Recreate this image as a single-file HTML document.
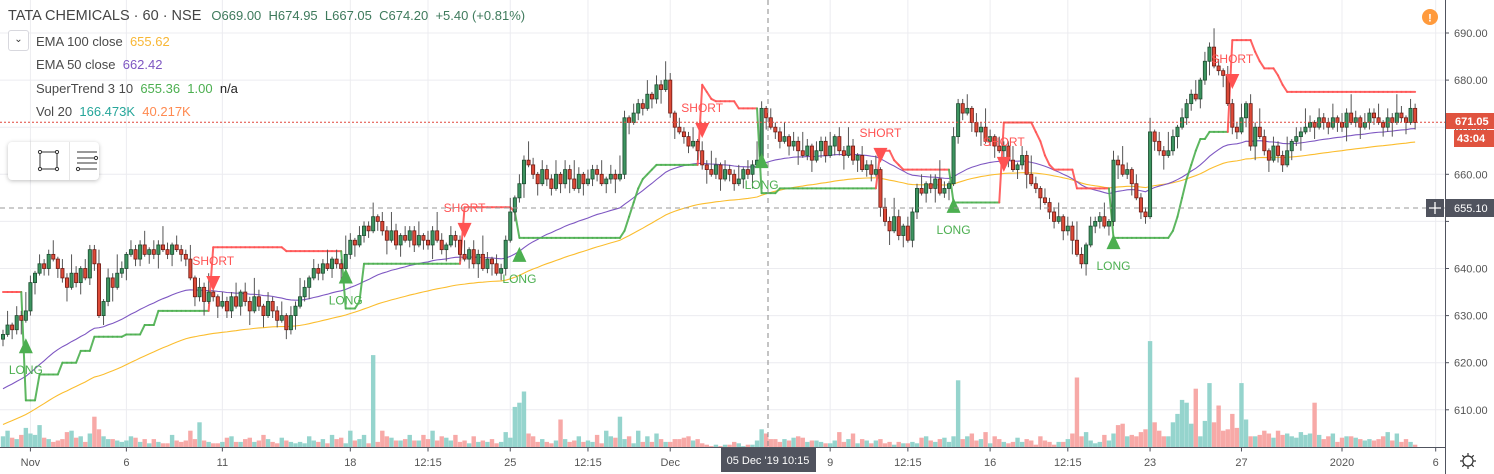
<!DOCTYPE html>
<html><head><meta charset="utf-8">
<style>
html,body{margin:0;padding:0;background:#fff;overflow:hidden;width:1494px;height:474px}
body{position:relative;font-family:"Liberation Sans",sans-serif}
svg{position:absolute;left:0;top:0;display:block}
.leg{position:absolute;font-size:13px;color:#4a4a4a;white-space:nowrap;line-height:16px}
</style></head><body>
<svg id="chart" width="1494" height="474"></svg>

<div class="leg" style="left:8px;top:8px;font-size:14.5px;color:#444">TATA CHEMICALS · 60 · NSE <span style="font-size:13px;color:#3e7a5c;margin-left:6px">O669.00&nbsp; H674.95&nbsp; L667.05&nbsp; C674.20&nbsp; +5.40 (+0.81%)</span></div>
<div style="position:absolute;left:8px;top:30px;width:19px;height:19px;border:1px solid #d8d8de;border-radius:3px;background:#fff;font-size:10px;text-align:center;line-height:18px;color:#333">&#8964;</div>
<div class="leg" style="left:36px;top:34px">EMA 100 close&nbsp; <span style="color:#f8b735">655.62</span></div>
<div class="leg" style="left:36px;top:57px">EMA 50 close&nbsp; <span style="color:#7e57c2">662.42</span></div>
<div class="leg" style="left:36px;top:81px">SuperTrend 3 10&nbsp; <span style="color:#4caf50">655.36&nbsp; 1.00</span>&nbsp; <span style="color:#222">n/a</span></div>
<div class="leg" style="left:36px;top:104px">Vol 20&nbsp; <span style="color:#26a69a">166.473K</span>&nbsp; <span style="color:#ff8a50">40.217K</span></div>

<div style="position:absolute;left:8px;top:142px;width:91px;height:38px;background:#fff;border-radius:4px;box-shadow:0 1px 4px rgba(0,0,0,.25)">
 <div style="position:absolute;left:22px;top:0;width:1px;height:38px;background:#e6e6e6"></div>
 <div style="position:absolute;left:61px;top:0;width:1px;height:38px;background:#e6e6e6"></div>
 <div style="position:absolute;left:24px;top:8px;width:36px;height:22px"><svg width="36" height="22" style="position:static"><rect x="8" y="2" width="17" height="17" fill="none" stroke="#333"/><g fill="#fff" stroke="#333"><circle cx="8" cy="2" r="1.6"/><circle cx="25" cy="2" r="1.6"/><circle cx="8" cy="19" r="1.6"/><circle cx="25" cy="19" r="1.6"/></g></svg></div>
 <div style="position:absolute;left:63px;top:8px;width:28px;height:22px"><svg width="28" height="22" style="position:static"><g stroke="#333"><line x1="6" y1="2" x2="26" y2="2"/><line x1="6" y1="8" x2="26" y2="8"/><line x1="6" y1="13" x2="26" y2="13"/><line x1="6" y1="19" x2="26" y2="19"/></g><circle cx="7" cy="19" r="1.6" fill="#fff" stroke="#333"/><circle cx="25" cy="8" r="1.6" fill="#fff" stroke="#333"/></svg></div>
</div>

<script>
// ---------- data ----------
const closes = [626,628,627,630,629,631,637,
639,641,640,643,642,640,
638,636,639,637,640,638,644,
641,630,633,638,636,639,640,
643,644,642,645,643,644,643,645,644,643,645,644,643,642,
638,634,636,633,635,
634,632,633,631,634,632,635,633,631,634,632,630,633,631,629,630,
627,630,632,634,636,
638,640,639,641,640,642,641,640,
643,646,645,647,649,648,651,
650,648,646,648,645,647,646,648,645,647,646,645,648,646,644,645,647,646,
643,642,644,641,643,640,642,641,639,640,
646,652,655,658,663,
662,660,658,661,659,657,660,658,661,659,657,660,658,659,661,660,658,659,660,659,
660,
672,671,673,675,674,677,
676,679,678,680,
673,670,669,668,666,667,
665,662,661,660,662,659,661,660,658,659,661,660,662,663,
674,672,670,
669,667,668,666,667,
665,664,666,663,665,667,664,666,668,665,664,666,663,664,
661,662,660,661,
653,650,648,651,647,649,646,
652,657,656,658,657,659,656,657,658,
668,675,673,674,
671,669,670,667,668,666,
665,666,663,661,662,664,660,658,657,655,654,
652,650,651,648,649,646,643,641,645,
649,650,651,649,650,
663,662,660,661,
658,655,652,651,
669,667,665,664,665,
668,670,672,675,677,676,
680,684,687,
683,682,681,
675,670,669,
672,675,666,670,668,665,
663,666,664,662,665,
667,668,669,670,671,670,
672,671,670,672,671,670,673,671,672,670,671,673,672,671,670,672,671,673,672,671,674,671];
const volumes = [40,60,35,30,45,70,50,45,80,35, 30,20,25,30,55,60,35,40,20,50,
110,65,40,30,30,25,20,25,40,35, 20,30,15,30,20,15,15,45,25,20,
25,60,30,90,25,20,15,15,20,35, 40,20,20,30,35,20,25,45,30,20,
15,35,25,20,15,20,15,40,25,20, 30,15,45,30,35,15,60,25,30,45,
15,330,20,60,40,35,25,25,30,45, 25,25,45,30,60,25,40,35,25,45,
20,25,15,40,20,25,20,30,15,20, 55,35,145,160,200,50,40,20,30,20,
15,25,100,30,20,25,40,20,25,20, 45,15,60,40,35,110,30,40,15,60,
20,40,20,50,30,20,20,30,30,35, 40,25,30,15,10,5,10,5,10,10,
20,15,5,10,10,25,65,50,30,30, 20,30,25,35,40,35,20,25,25,20,
15,15,25,55,20,30,50,15,30,25, 15,25,30,15,20,10,20,15,15,20,
15,35,40,25,20,30,35,20,40,240, 30,40,50,25,30,55,15,40,30,20,
15,20,35,20,30,25,10,40,25,20, 10,20,20,30,50,250,40,55,25,15,
20,45,25,50,80,85,40,45,40,55, 65,380,90,60,40,40,90,120,170,160,
85,210,40,95,230,90,150,60,65,120, 70,230,100,40,40,45,60,50,35,60,
45,50,40,35,55,45,50,160,45,30, 40,50,20,35,40,40,35,30,25,30,
25,30,40,55,25,50,20,30,20,10];
// extra wick beyond body (price units), repeating reading pattern per bar
const wickUp = [1,3,0.5,2,1,4,1.5,0.5,2,1];
const wickDn = [1.5,0.5,2,1,3,0.5,1,2.5,0.5,1.5];
// supertrend as runs: length, level, direction (1 long / -1 short)
const stRunLen = [5,3,5,4,3,7,4,3,12,16,13,3,1,22,11,1,23,1,1,1,1,1,1,1,1,1,1,7,1,1,1,5,5,4,22,3,1,1,1,1,9,11,7,1,1,1,1,5,8,13,1,1,1,1,1,1,2,5,5,1,1,1,1,1,1,1,29];
const stRunVal = [635,612,617.5,620,622.5,625.5,626,628,631,644.5,643.7,631.5,633,641,653,652,646.5,648,651,654,657,659,660,661,662,662,662,662,679,677.5,676,675.5,674,656,657,665,663,662,661,661,661,654,671,669,667,664,662,661,657,646.5,648,651,655,659,662,665,667.5,669,688.5,686,684,682.5,682.5,682.5,681,679,677.5];
const stRunDir = [-1,1,1,1,1,1,1,1,1,-1,-1,1,1,1,-1,-1,1,1,1,1,1,1,1,1,1,1,1,1,-1,-1,-1,-1,-1,1,1,-1,-1,-1,-1,-1,-1,1,-1,-1,-1,-1,-1,-1,-1,1,1,1,1,1,1,1,1,1,-1,-1,-1,-1,-1,-1,-1,-1,-1];
const sigBars = [5,46,75,101,113,153,166,192,208,219,243,269];
const sigTypes = ['LONG','SHORT','LONG','SHORT','LONG','SHORT','LONG','SHORT','LONG','SHORT','LONG','SHORT'];
const sigPrices = [625.2,638.4,640,649.7,644.6,670.9,664.5,665.6,655,663.7,647.3,681.3];
const priceTicks = [690,680,670,660,650,640,630,620,610];
const timeLabels = ['Nov','6','11','18','12:15','25','12:15','Dec','9','12:15','16','12:15','23','27','2020','6'];
const timeBars = [6,27,48,76,93,111,128,146,181,198,216,233,251,271,293,313.5];
const ema100Seed = 606.5, ema50Seed = 614;

// ---------- scales ----------
const svg = document.getElementById('chart');
const NS='http://www.w3.org/2000/svg';
const X = i => 3 + i*4.57;
const Y = p => 33 + (690-p)*4.71;
const VH = v => v*0.28;
const BASE = 447.5, PR = 1445;
function mk(tag, attrs, parent){const e=document.createElementNS(NS,tag);for(const k in attrs)e.setAttribute(k,attrs[k]);(parent||svg).appendChild(e);return e;}

// grid
const grid = mk('g',{});


priceTicks.forEach(p=>{const l=mk('line',{x1:0,x2:PR,y1:Y(p),y2:Y(p),stroke:'#ececf0'},grid);

});
timeBars.forEach(b=>{const l=mk('line',{x1:X(b),x2:X(b),y1:0,y2:BASE,stroke:'#ececf0'},grid);

});

const opens = closes.map((c,i)=> i===0 ? 625 : closes[i-1]);

// volume
const vg = mk('g',{});


volumes.forEach((v,i)=>{const up=closes[i]>=opens[i];
const r=mk('rect',{x:X(i)-2.2,y:BASE-VH(v),width:4.4,height:VH(v),fill:up?'#95d4cd':'#f7a9a7'},vg);

});

// EMAs
function ema(seed,n){const a=2/(n+1);let e=seed;return closes.map(c=>{e=e+a*(c-e);return e;});}
const e100=ema(ema100Seed,100), e50=ema(ema50Seed,50);
const l100=mk('polyline',{points:e100.map((v,i)=>X(i)+','+Y(v)).join(' '),fill:'none',stroke:'#fbbd2e','stroke-width':1.1});


const l50=mk('polyline',{points:e50.map((v,i)=>X(i)+','+Y(v)).join(' '),fill:'none',stroke:'#7e57c2','stroke-width':1.1});



// supertrend
const st=[],sd=[];
stRunLen.forEach((n,k)=>{for(let j=0;j<n;j++){st.push(stRunVal[k]);sd.push(stRunDir[k]);}});
const sg=mk('g',{});


for(let i=1;i<st.length;i++){
 const s=mk('line',{x1:X(i-1),y1:Y(st[i-1]),x2:X(i),y2:Y(st[i]),stroke:sd[i]>0?'#4caf50':'#ff5252','stroke-width':2,'stroke-linecap':'round','stroke-opacity':0.9},sg);
 
 
}

// candles
const cg=mk('g',{});


closes.forEach((c,i)=>{const o=opens[i];const up=c>=o;const x=X(i);
 const hi=Math.max(o,c)+wickUp[i%wickUp.length], lo=Math.min(o,c)-wickDn[i%wickDn.length];
 const w=mk('line',{x1:x,x2:x,y1:Y(hi),y2:Y(lo),stroke:'#555','stroke-width':1},cg);
 
 
 const top=Y(Math.max(o,c)), h=Math.max(1,Y(Math.min(o,c))-top);
 const b=mk('rect',{x:x-1.6,y:top,width:3.2,height:h,fill:up?'#3d9460':'#dc4a38',stroke:up?'#1d4c30':'#6e1b14','stroke-width':0.8},cg);
 
 
});

// signals
sigBars.forEach((b,k)=>{const x=X(b), t=sigTypes[k], y=Y(sigPrices[k]);
 const g=mk('g',{});
 
 
 if(t==='LONG'){
  mk('polygon',{points:`${x},${y} ${x-7},${y+15} ${x+7},${y+15}`,fill:'#4caf50'},g);
  const tx=mk('text',{x:x,y:y+36,'text-anchor':'middle','font-size':12,fill:'#4caf50','font-family':'Liberation Sans, sans-serif'},g);tx.textContent='LONG';
 } else {
  mk('polygon',{points:`${x-7},${y} ${x+7},${y} ${x},${y+15}`,fill:'#ff5252'},g);
  const tx=mk('text',{x:x,y:y-11,'text-anchor':'middle','font-size':12,fill:'#ff5252','font-family':'Liberation Sans, sans-serif'},g);tx.textContent='SHORT';
 }
});

// current price line
const cp=mk('line',{x1:0,x2:PR,y1:Y(671.05),y2:Y(671.05),stroke:'#e0473b','stroke-dasharray':'2,2','stroke-width':1});


// crosshair
const chv=mk('line',{x1:768,x2:768,y1:0,y2:BASE,stroke:'#888','stroke-dasharray':'5,4'});


const chh=mk('line',{x1:0,x2:PR,y1:208,y2:208,stroke:'#999','stroke-dasharray':'5,4'});



// axes
mk('rect',{x:PR,y:0,width:49,height:474,fill:'#fff'});
mk('rect',{x:0,y:BASE,width:PR,height:26,fill:'#fff'});
const ax=mk('line',{x1:PR+0.5,x2:PR+0.5,y1:0,y2:474,stroke:'#50535e'});


const tx=mk('line',{x1:0,x2:PR,y1:BASE,y2:BASE,stroke:'#50535e'});


priceTicks.forEach(p=>{
 const y=p===650?212:Y(p);
 mk('line',{x1:PR,x2:PR+4,y1:Y(p),y2:Y(p),stroke:'#50535e'});
 const t=mk('text',{x:1454,y:y+4,'font-size':11,fill:'#555','font-family':'Liberation Sans, sans-serif'});
 t.textContent=p.toFixed(2);
 
 
});
timeLabels.forEach((s,k)=>{const x=X(timeBars[k]);
 mk('line',{x1:x,x2:x,y1:BASE,y2:BASE+4,stroke:'#50535e'});
 const t=mk('text',{x:x,y:466,'text-anchor':'middle','font-size':11,fill:'#555','font-family':'Liberation Sans, sans-serif'});
 t.textContent=s;
 
 
});
// price labels
const lp=mk('g',{});


mk('rect',{x:1446,y:113,width:48,height:16,fill:'#e0533f'},lp);
let t1=mk('text',{x:1455,y:125,'font-size':11,'font-weight':'bold',fill:'#fff','font-family':'Liberation Sans, sans-serif'},lp);t1.textContent='671.05';
mk('rect',{x:1454,y:130,width:40,height:17,fill:'#e0533f'},lp);
let t2=mk('text',{x:1457,y:142,'font-size':11,'font-weight':'bold',fill:'#fff','font-family':'Liberation Sans, sans-serif'},lp);t2.textContent='43:04';
const cl=mk('g',{});


mk('rect',{x:1426,y:199,width:18,height:18,fill:'#50535e'},cl);
mk('path',{d:'M1435 202v12M1429 208h12',stroke:'#fff','stroke-width':1.3},cl);
mk('rect',{x:1446,y:199,width:48,height:18,fill:'#50535e'},cl);
let t3=mk('text',{x:1454,y:212,'font-size':11,fill:'#fff','font-family':'Liberation Sans, sans-serif'},cl);t3.textContent='655.10';
const ct=mk('g',{});


mk('rect',{x:721,y:448,width:95,height:24,fill:'#50535e'},ct);
let t4=mk('text',{x:768,y:464,'text-anchor':'middle','font-size':11,fill:'#fff','font-family':'Liberation Sans, sans-serif'},ct);t4.textContent="05 Dec '19   10:15";
// alert icon
const al=mk('g',{});


mk('circle',{cx:1430,cy:17,r:8,fill:'#ff9a3c'},al);
let t5=mk('text',{x:1430,y:21.5,'text-anchor':'middle','font-size':11,'font-weight':'bold',fill:'#fff','font-family':'Liberation Sans, sans-serif'},al);t5.textContent='!';
// settings gear
const gr=mk('g',{});


mk('circle',{cx:1468,cy:461,r:5,fill:'none',stroke:'#333','stroke-width':1.2},gr);
mk('path',{d:'M1468 453v3M1468 466v3M1460 461h3M1473 461h3M1462.3 455.3l2 2M1471.7 464.7l2 2M1462.3 466.7l2-2M1471.7 457.3l2-2',stroke:'#333','stroke-width':1.2},gr);
</script>
</body></html>
